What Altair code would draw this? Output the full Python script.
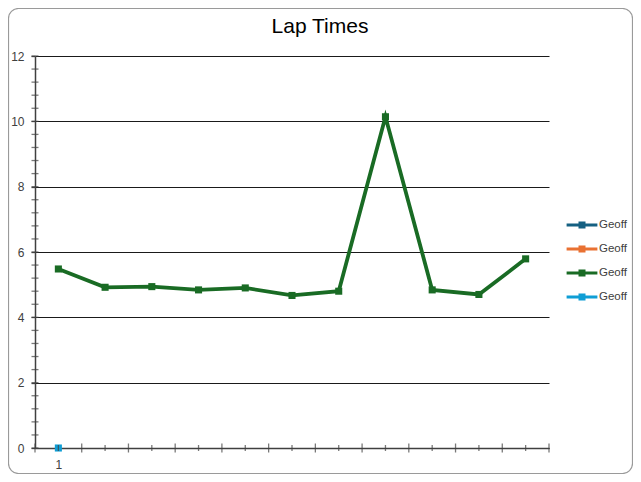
import altair as alt
import pandas as pd

# ---- data ----
title_text = ["Lap Times"]
laps = list(range(1, 12))
series_keys = ["s1", "s2", "s3", "s4"]
series_colors = ["#156082", "#E97132", "#196B24", "#0F9ED5"]
green_times = [5.48, 4.92, 4.94, 4.84, 4.90, 4.67, 4.80, 10.14, 4.84, 4.70, 5.79]
cyan_laps = [1]
cyan_times = [0]
y_major = [0, 2, 4, 6, 8, 10, 12]
y_minor = [round(i * 0.4, 2) for i in range(31)]
x_major = [l - 0.5 for l in laps] + [laps[-1] + 0.5]
x_minor = laps

rows = [{"lap": l, "time": t, "series": "s3"} for l, t in zip(laps, green_times)]
rows += [{"lap": l, "time": t, "series": "s4"} for l, t in zip(cyan_laps, cyan_times)]
df = pd.DataFrame(rows)

FONT = "Liberation Sans"
TXT = "#404040"
AX = "#404040"

x_scale = alt.Scale(domain=[0.5, 11.5], nice=False, zero=False)
y_scale = alt.Scale(domain=[0, 12], nice=False, zero=False)
x_axis = alt.Axis(values=[1], title=None, grid=False, tickSize=0, labelPadding=11,
                  labelFont=FONT, labelFontSize=12, labelColor=TXT,
                  domainColor=AX, domainWidth=1.5, format="d")
y_axis = alt.Axis(values=y_major, title=None, grid=True, gridColor="#1a1a1a", gridWidth=1,
                  tickSize=4, tickColor=AX, tickWidth=1.3, labelPadding=7,
                  labelFont=FONT, labelFontSize=12, labelColor=TXT,
                  domainColor=AX, domainWidth=1.5)

def X():
    return alt.X("lap:Q", scale=x_scale, axis=x_axis)

def Y():
    return alt.Y("time:Q", scale=y_scale, axis=y_axis)

color_scale = alt.Scale(domain=series_keys, range=series_colors)
legend = alt.Legend(
    title=None, orient="none", legendX=540, legendY=162, padding=0,
    symbolType="M-2.2,-0.2H2.2V0.2H-2.2Z M-0.5,-0.5H0.5V0.5H-0.5Z",
    symbolSize=196, symbolStrokeWidth=0, symbolOpacity=1,
    labelOffset=10, rowPadding=11, labelExpr="'Geoff'",
    labelFont=FONT, labelFontSize=11.5, labelColor=TXT,
)

border = alt.Chart(pd.DataFrame({"a": [0]})).mark_rect(
    fill="transparent", stroke="#9a9a9a", strokeWidth=1.2, cornerRadius=10
).encode(x=alt.value(-26.5), x2=alt.value(597.5), y=alt.value(-47.5), y2=alt.value(417.5))

title = alt.Chart(pd.DataFrame({"t": title_text})).mark_text(
    font="Liberation Sans", fontSize=21, color="#000000", align="center", baseline="alphabetic"
).encode(text="t:N", x=alt.value(285), y=alt.value(-23))

xt_major = alt.Chart(pd.DataFrame({"lap": x_major, "time": [0] * len(x_major)})).mark_tick(
    orient="vertical", size=9, thickness=1.3, color=AX).encode(x=X(), y=Y())
xt_minor = alt.Chart(pd.DataFrame({"lap": x_minor, "time": [0] * len(x_minor)})).mark_tick(
    orient="vertical", size=6, thickness=1.3, color=AX).encode(x=X(), y=Y())
yt_minor = alt.Chart(pd.DataFrame({"lap": [0.5] * len(y_minor), "time": y_minor})).mark_tick(
    orient="horizontal", size=7, thickness=1.3, color=AX).encode(x=X(), y=Y())

lines = alt.Chart(df).mark_line(strokeWidth=3.8).encode(
    x=X(), y=Y(),
    color=alt.Color("series:N", scale=color_scale, legend=legend),
)
points = alt.Chart(df).mark_square(size=50, opacity=1, filled=True).encode(
    x=X(), y=Y(),
    color=alt.Color("series:N", scale=color_scale, legend=legend),
)

chart = alt.layer(border, title, yt_minor, lines, points, xt_major, xt_minor).properties(
    width=514, height=392,
    padding={"left": 27, "top": 48, "right": 84, "bottom": 26},
    autosize=alt.AutoSizeParams(type="none"),
).configure_view(stroke=None)

chart.save("out.html", embed_options={"renderer": "svg", "actions": False})
